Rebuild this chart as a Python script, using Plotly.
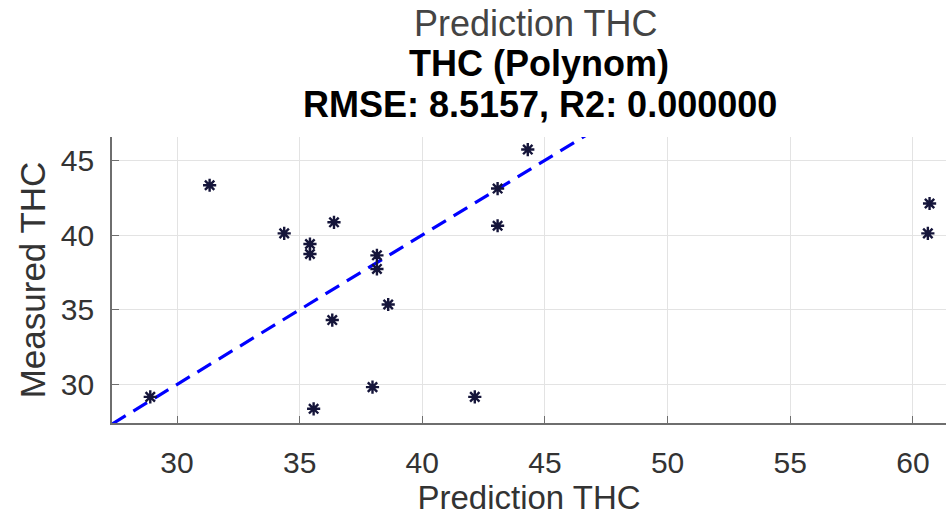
import plotly.graph_objects as go

# Data
predicted = [28.91, 31.33, 34.37, 35.42, 35.42, 36.40, 36.33, 35.57, 37.97,
             38.15, 38.15, 38.61, 42.14, 43.07, 43.07, 44.30, 60.68, 60.61]
measured = [29.17, 43.33, 40.11, 39.40, 38.73, 40.85, 34.31, 28.37, 29.82,
            38.64, 37.73, 35.35, 29.17, 43.11, 40.62, 45.72, 42.11, 40.11]

x_range = [27.35, 61.35]
y_range = [27.42, 46.56]
x_ticks = [30, 35, 40, 45, 50, 55, 60]
y_ticks = [30, 35, 40, 45]
identity = [27.35, 61.35]

title_lines = ["Prediction THC", "<b>THC (Polynom)</b>", "<b>RMSE: 8.5157, R2: 0.000000</b>"]

FONT = "Liberation Sans, Arial, Helvetica, sans-serif"

fig = go.Figure()
fig.add_trace(go.Scatter(
    x=identity, y=identity, mode="lines",
    line=dict(color="#0000ff", width=3.2, dash="16px,9px"),
    hoverinfo="skip", showlegend=False,
))
fig.add_trace(go.Scatter(
    x=predicted, y=measured, mode="markers",
    marker=dict(symbol="asterisk-open", size=11, color="#15153a",
                line=dict(color="#15153a", width=2.4)),
    showlegend=False,
))

W, H = 946, 517
ml, mr, mt, mb = 112, 0, 137, 94
pw, ph = W - ml - mr, H - mt - mb

def px_to_paper_y(yp):
    return (H - mb - yp) / ph

def px_to_paper_x(xp):
    return (xp - ml) / pw

title_specs = [(title_lines[0], 23, "#444444", 535),
               (title_lines[1], 63, "#000000", 539),
               (title_lines[2], 104, "#000000", 540)]
for text, ypix, col, xpix in title_specs:
    fig.add_annotation(
        text=text, xref="paper", yref="paper",
        x=px_to_paper_x(xpix), y=px_to_paper_y(ypix),
        xanchor="center", yanchor="middle", showarrow=False,
        font=dict(family=FONT, size=36, color=col),
    )

axis_common = dict(
    showline=True, linecolor="#6e6e6e", linewidth=1.6,
    ticks="inside", ticklen=7, tickwidth=1.4, tickcolor="#6e6e6e",
    showgrid=True, gridcolor="#e3e3e3", gridwidth=1,
    zeroline=False, mirror=False,
    tickfont=dict(family=FONT, size=30, color="#333333"),
)

fig.update_xaxes(
    range=x_range, tickvals=x_ticks, ticktext=[str(v) for v in x_ticks],
    title=dict(text="Prediction THC", font=dict(family=FONT, size=33, color="#333333"), standoff=5),
    ticklabelstandoff=12,
    **axis_common,
)
fig.update_yaxes(
    range=y_range, tickvals=y_ticks, ticktext=[str(v) for v in y_ticks],
    title=dict(text="Measured THC", font=dict(family=FONT, size=35, color="#333333"), standoff=5),
    ticklabelstandoff=10,
    **axis_common,
)

fig.update_layout(
    width=W, height=H,
    margin=dict(l=ml, r=mr, t=mt, b=mb, pad=0, autoexpand=False),
    plot_bgcolor="white", paper_bgcolor="white",
    showlegend=False,
)

fig.write_html(
    "out.html",
    config={"displayModeBar": False},
    post_script="document.body.style.margin='0';document.body.style.overflow='hidden';",
)
